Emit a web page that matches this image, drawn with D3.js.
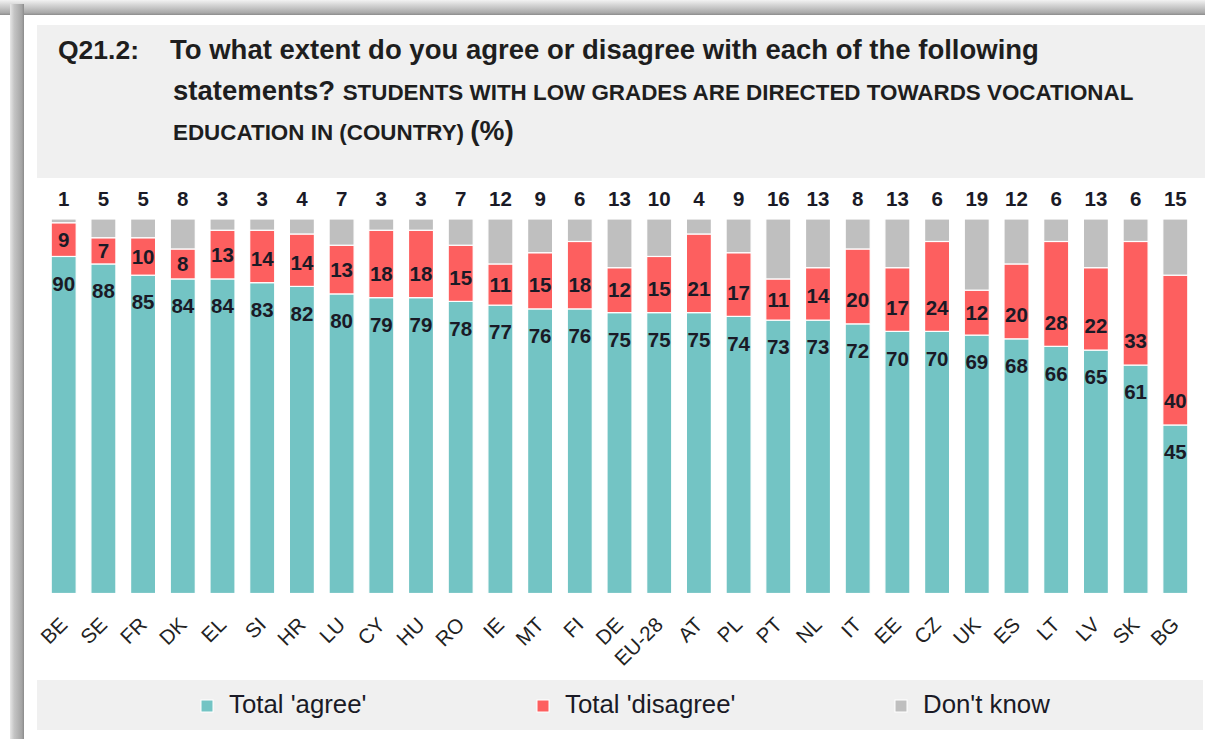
<!DOCTYPE html>
<html>
<head>
<meta charset="utf-8">
<script src="https://cdn.jsdelivr.net/npm/d3@7"></script>
<style>
  body { margin: 0; background: #fff; }
  svg { display: block; font-family: "Liberation Sans", Arial, sans-serif; }
</style>
</head>
<body>
<svg id="chart" width="1205" height="739"></svg>
<script>
let countries = ["BE","SE","FR","DK","EL","SI","HR","LU","CY","HU","RO","IE","MT","FI","DE","EU-28","AT","PL","PT","NL","IT","EE","CZ","UK","ES","LT","LV","SK","BG"];
let agree    = [90,88,85,84,84,83,82,80,79,79,78,77,76,76,75,75,75,74,73,73,72,70,70,69,68,66,65,61,45];
let disagree = [9,7,10,8,13,14,14,13,18,18,15,11,15,18,12,15,21,17,11,14,20,17,24,12,20,28,22,33,40];
let dontKnow = [1,5,5,8,3,3,4,7,3,3,7,12,9,6,13,10,4,9,16,13,8,13,6,19,12,6,13,6,15];

let seriesNames = ["Total 'agree'", "Total 'disagree'", "Don't know"];
let seriesColors = ["#73c4c4", "#fd5f5f", "#bfbfbf"];

window.onload = function() {
  let svg = d3.select("#chart");
  let defs = svg.append("defs");

  // frame shadow
  let gTop = defs.append("linearGradient").attr("id", "shTop")
    .attr("x1", 0).attr("y1", 0).attr("x2", 0).attr("y2", 1);
  gTop.append("stop").attr("offset", 0).attr("stop-color", "#f2f2f2");
  gTop.append("stop").attr("offset", 0.25).attr("stop-color", "#dcdcdc");
  gTop.append("stop").attr("offset", 0.85).attr("stop-color", "#a9a9a9");
  gTop.append("stop").attr("offset", 1).attr("stop-color", "#8c8c8c");
  let gLeft = defs.append("linearGradient").attr("id", "shLeft")
    .attr("x1", 0).attr("y1", 0).attr("x2", 1).attr("y2", 0);
  gLeft.append("stop").attr("offset", 0).attr("stop-color", "#e6e6e6");
  gLeft.append("stop").attr("offset", 0.3).attr("stop-color", "#c4c4c4");
  gLeft.append("stop").attr("offset", 0.85).attr("stop-color", "#a4a4a4");
  gLeft.append("stop").attr("offset", 1).attr("stop-color", "#8a8a8a");

  svg.append("rect").attr("x", 0).attr("y", 0).attr("width", 1205).attr("height", 15).attr("fill", "url(#shTop)");
  svg.append("rect").attr("x", 10).attr("y", 4).attr("width", 14).attr("height", 735).attr("fill", "url(#shLeft)");

  // title box
  svg.append("rect").attr("x", 37).attr("y", 25).attr("width", 1168).attr("height", 153).attr("fill", "#f0f0f0");

  let title = svg.append("g").attr("fill", "#1e1e1e").attr("font-weight", "bold");
  title.append("text").attr("x", 58).attr("y", 59).attr("font-size", 26.5).text("Q21.2:");
  title.append("text").attr("x", 170).attr("y", 59).attr("font-size", 27.5)
    .text("To what extent do you agree or disagree with each of the following");
  let l2 = title.append("text").attr("x", 173).attr("y", 100);
  l2.append("tspan").attr("font-size", 27.5).text("statements? ");
  l2.append("tspan").attr("font-size", 22.4).text("STUDENTS WITH LOW GRADES ARE DIRECTED TOWARDS VOCATIONAL");
  let l3 = title.append("text").attr("x", 173).attr("y", 140);
  l3.append("tspan").attr("font-size", 22.4).text("EDUCATION IN (COUNTRY) ");
  l3.append("tspan").attr("font-size", 28).text("(%)");

  // scales
  let x = d3.scaleBand()
    .domain(countries)
    .range([43.85, 1195.15])
    .paddingInner(0.37)
    .paddingOuter(0.185);
  let y = d3.scaleLinear().domain([0, 100]).range([593.5, 219]);

  let rows = countries.map((c, i) => ({country: c, agree: agree[i], disagree: disagree[i], dk: dontKnow[i]}));
  let stack = d3.stack().keys(["agree", "disagree", "dk"])(rows);

  let bars = svg.append("g");
  bars.selectAll("g")
    .data(stack)
    .join("g")
    .attr("fill", (d, i) => seriesColors[i])
    .selectAll("rect")
    .data(d => d)
    .join("rect")
    .attr("x", d => x(d.data.country))
    .attr("y", d => y(d[1]))
    .attr("width", x.bandwidth())
    .attr("height", d => y(d[0]) - y(d[1]))
    .attr("stroke", "#fff")
    .attr("stroke-width", 1.2);

  let labels = svg.append("g")
    .attr("font-size", 20.5)
    .attr("font-weight", "bold")
    .attr("fill", "#1a1a26")
    .attr("text-anchor", "middle");

  // agree labels near top of teal segment
  labels.selectAll(".lblA")
    .data(rows)
    .join("text")
    .attr("class", "lblA")
    .attr("x", d => x(d.country) + x.bandwidth() / 2)
    .attr("y", d => y(d.agree) + 27)
    .attr("dy", "0.35em")
    .text(d => d.agree);

  // disagree labels
  labels.selectAll(".lblD")
    .data(rows)
    .join("text")
    .attr("class", "lblD")
    .attr("x", d => x(d.country) + x.bandwidth() / 2)
    .attr("y", d => {
      let mid = (y(d.agree) + y(d.agree + d.disagree)) / 2;
      return Math.max(mid, y(d.agree) - 24);
    })
    .attr("dy", "0.35em")
    .text(d => d.disagree);

  // don't know labels above bars
  labels.selectAll(".lblK")
    .data(rows)
    .join("text")
    .attr("class", "lblK")
    .attr("x", d => x(d.country) + x.bandwidth() / 2)
    .attr("y", 199)
    .attr("dy", "0.35em")
    .text(d => d.dk);

  // x axis labels
  let xAxis = svg.append("g")
    .call(d3.axisBottom(x).tickSize(0));
  xAxis.select(".domain").remove();
  xAxis.selectAll(".tick text")
    .attr("font-size", 20.5)
    .attr("font-family", "'Liberation Sans', Arial, sans-serif")
    .attr("fill", "#222")
    .attr("text-anchor", "end")
    .attr("y", 0)
    .attr("dy", 0)
    .attr("transform", "translate(5,626) rotate(-45)");

  // legend
  svg.append("rect").attr("x", 37).attr("y", 680).attr("width", 1166).attr("height", 50).attr("fill", "#f0f0f0");
  let legendX = [201, 537, 895];
  let legend = svg.append("g").selectAll("g")
    .data(seriesNames)
    .join("g")
    .attr("transform", (d, i) => `translate(${legendX[i]},700)`);
  legend.append("rect")
    .attr("width", 12).attr("height", 12)
    .attr("fill", (d, i) => seriesColors[i])
    .attr("stroke", "#fff").attr("stroke-width", 1);
  legend.append("text")
    .attr("x", 28).attr("y", 13)
    .attr("font-size", 25.8)
    .attr("fill", "#1a1a26")
    .text(d => d);
}
</script>
</body>
</html>
